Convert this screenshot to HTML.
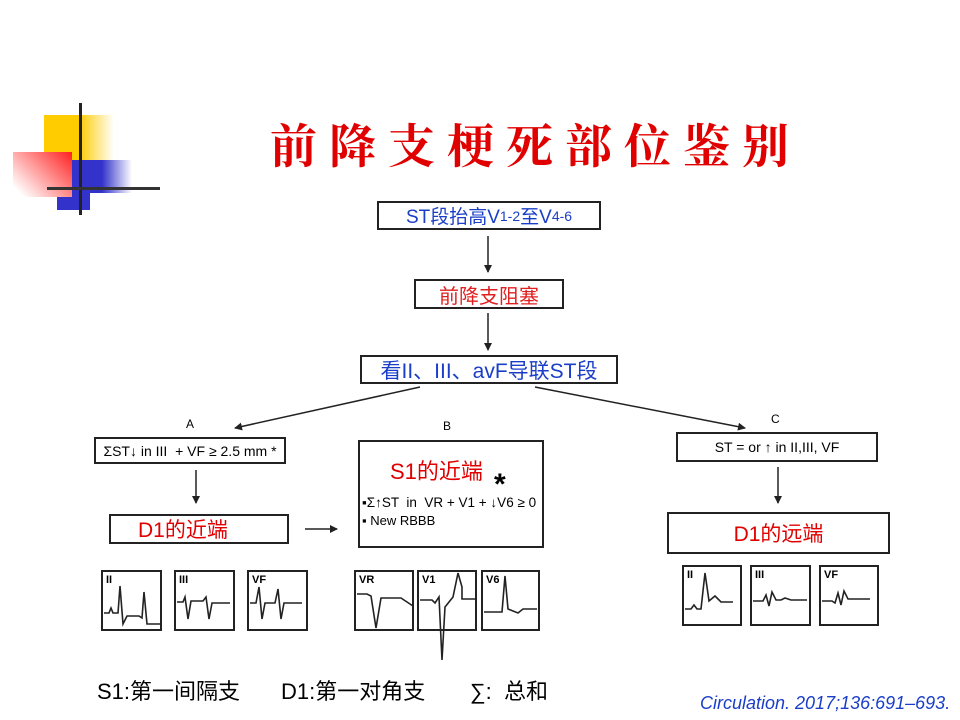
<!DOCTYPE html>
<html><head><meta charset="utf-8"><style>
body{margin:0;width:960px;height:720px;background:#fff;position:relative;overflow:hidden;font-family:"Liberation Sans","Noto Sans CJK SC",sans-serif}
.a{position:absolute}
.box{position:absolute;border:2px solid #222;box-sizing:border-box;display:flex;align-items:center;justify-content:center;background:#fff;white-space:nowrap}
.ecg{position:absolute;border:2px solid #222;box-sizing:border-box}
.ecg b{position:absolute;left:3px;top:2px;font-size:11px}
</style></head><body>
<div class="a" style="left:44px;top:115px;width:70px;height:45px;background:linear-gradient(90deg,#ffcc00 50%,#fff)"></div>
<div class="a" style="left:72px;top:160px;width:60px;height:33px;background:linear-gradient(90deg,#3333cc 50%,#fff)"></div>
<div class="a" style="left:57px;top:190px;width:33px;height:20px;background:#3333cc"></div>
<div class="a" style="left:13px;top:152px;width:59px;height:45px;background:linear-gradient(225deg,#ff2020,#fff 90%)"></div>
<div class="a" style="left:79px;top:103px;width:3px;height:112px;background:#222"></div>
<div class="a" style="left:47px;top:187px;width:113px;height:3px;background:#333"></div>
<div class="a" style="left:270px;top:110px;font-size:47px;color:#e00000;font-family:'Noto Serif CJK SC',serif;font-weight:bold;letter-spacing:12px;white-space:nowrap">前降支梗死部位鉴别</div>

<div class="box" style="left:377px;top:201px;width:224px;height:29px;color:#1a3ec8;font-size:19px">ST段抬高V<span style="font-size:14px">1-2</span>至V<span style="font-size:14px">4-6</span></div>
<div class="box" style="left:414px;top:279px;width:150px;height:30px;color:#e02020;font-size:20px">前降支阻塞</div>
<div class="box" style="left:360px;top:355px;width:258px;height:29px;color:#1a3ec8;font-size:21px">看II、III、avF导联ST段</div>

<div class="a" style="left:186px;top:417px;font-size:12px">A</div>
<div class="a" style="left:443px;top:419px;font-size:12px">B</div>
<div class="a" style="left:771px;top:412px;font-size:12px">C</div>

<div class="box" style="left:94px;top:437px;width:192px;height:27px;font-size:14px">ΣST↓ in III &nbsp;+ VF ≥ 2.5 mm *</div>
<div class="box" style="left:109px;top:514px;width:180px;height:30px;justify-content:flex-start;padding-left:27px;color:#e00000;font-size:21px">D1的近端</div>
<div class="box" style="left:358px;top:440px;width:186px;height:108px;display:block">
 <div class="a" style="left:30px;top:12px;color:#e00000;font-size:22px">S1的近端</div>
 <div class="a" style="left:134px;top:26px;font-size:30px;font-weight:bold">*</div>
 <div class="a" style="left:2px;top:53px;font-size:13.5px;white-space:nowrap">▪Σ↑ST &nbsp;in &nbsp;VR + V1 + ↓V6 ≥ 0</div>
 <div class="a" style="left:2px;top:71px;font-size:13px">▪ New RBBB</div>
</div>
<div class="box" style="left:676px;top:432px;width:202px;height:30px;font-size:14px">ST = or ↑ in II,III, VF</div>
<div class="box" style="left:667px;top:512px;width:223px;height:42px;color:#e00000;font-size:21px">D1的远端</div>

<div class="ecg" style="left:101px;top:570px;width:61px;height:61px"><b>II</b></div>
<div class="ecg" style="left:174px;top:570px;width:61px;height:61px"><b>III</b></div>
<div class="ecg" style="left:247px;top:570px;width:61px;height:61px"><b>VF</b></div>
<div class="ecg" style="left:354px;top:570px;width:60px;height:61px"><b>VR</b></div>
<div class="ecg" style="left:417px;top:570px;width:60px;height:61px"><b>V1</b></div>
<div class="ecg" style="left:481px;top:570px;width:59px;height:61px"><b>V6</b></div>
<div class="ecg" style="left:682px;top:565px;width:60px;height:61px"><b>II</b></div>
<div class="ecg" style="left:750px;top:565px;width:61px;height:61px"><b>III</b></div>
<div class="ecg" style="left:819px;top:565px;width:60px;height:61px"><b>VF</b></div>

<svg class="a" style="left:0;top:0" width="960" height="720">
<defs><marker id="m" markerWidth="8" markerHeight="8" refX="7" refY="4" orient="auto" markerUnits="userSpaceOnUse"><path d="M0,0 L8,4 L0,8z" fill="#222"/></marker></defs>
<g stroke="#222" stroke-width="1.5" fill="none" marker-end="url(#m)">
<line x1="488" y1="236" x2="488" y2="272"/>
<line x1="488" y1="313" x2="488" y2="350"/>
<line x1="420" y1="387" x2="235" y2="428"/>
<line x1="535" y1="387" x2="745" y2="428"/>
<line x1="196" y1="470" x2="196" y2="503"/>
<line x1="778" y1="467" x2="778" y2="503"/>
<line x1="305" y1="529" x2="337" y2="529"/>
</g>
<g stroke="#222" stroke-width="1.6" fill="none">
<path d="M104,613 h5 l2,-5 l2,5 h2 l3,0 l2,-27 l3,38 l4,-8 h12 l3,2 l2,-26 l3,32 h14"/>
<path d="M177,602 h6 l2,-5 l3,22 l3,-18 h12 l3,-4 l3,22 l3,-16 h18"/>
<path d="M250,603 h6 l3,-16 l3,32 l3,-16 h10 l3,-14 l3,30 l3,-16 h18"/>
<path d="M357,594 h10 l4,2 l5,32 l5,-30 h20 l12,8 h1"/>
<path d="M420,600 h12 l3,3 l4,-6 l3,63 l3,-53 l8,-10 l5,-24 l4,14 v12 h14"/>
<path d="M484,612 h18 l3,-36 l3,33 l10,4 l5,-4 l8,0 h6"/>
<path d="M685,609 h6 l3,-4 l3,4 h4 l4,-36 l4,28 l6,-5 l6,6 h12"/>
<path d="M753,601 h10 l3,-6 l3,11 l3,-14 l4,8 h5 l4,-2 l6,2 h16"/>
<path d="M822,601 h10 l3,2 l3,-10 l3,12 l3,-14 l4,8 h22"/>
</g>
</svg>

<div class="a" style="left:97px;top:674px;font-size:22px;white-space:nowrap">S1:第一间隔支</div>
<div class="a" style="left:281px;top:674px;font-size:22px;white-space:nowrap">D1:第一对角支</div>
<div class="a" style="left:470px;top:674px;font-size:22px;white-space:nowrap">∑: &nbsp;总和</div>
<div class="a" style="left:700px;top:693px;font-size:18px;font-style:italic;color:#1a3ec8;white-space:nowrap">Circulation. 2017;136:691–693.</div>
</body></html>
